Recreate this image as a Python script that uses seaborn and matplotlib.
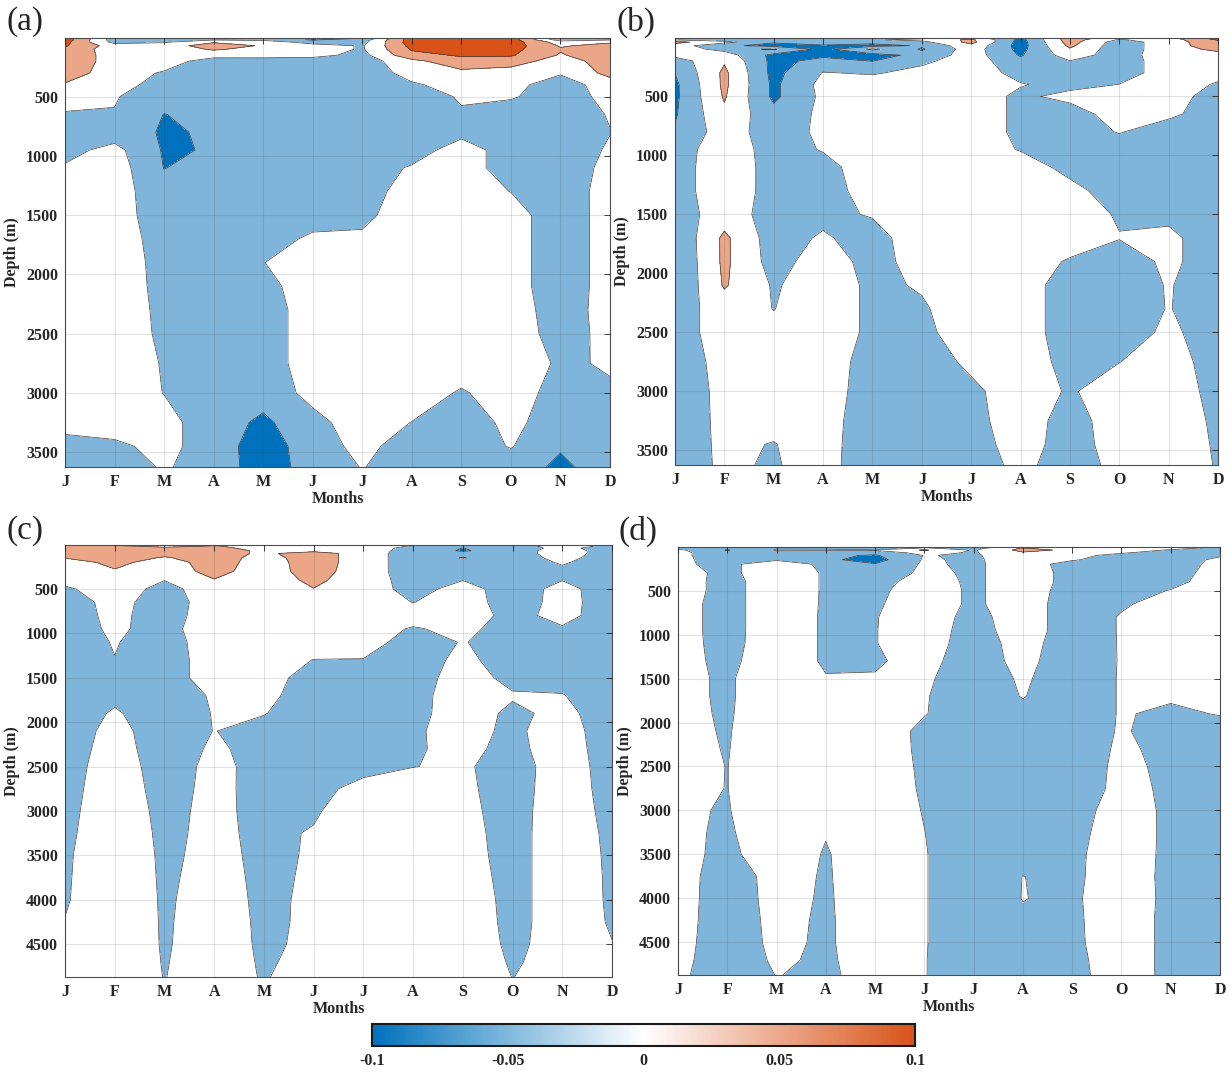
import numpy as np
import matplotlib
matplotlib.use("Agg")
import matplotlib.pyplot as plt
from matplotlib.colors import Normalize
import matplotlib.cm as cm
import seaborn as sns

# ---------------- data (values in units of 0.01) ----------------
months = ['J', 'F', 'M', 'A', 'M', 'J', 'J', 'A', 'S', 'O', 'N', 'D']
month_pos = list(range(1, 13))

depth_ab = [5, 20, 40, 70, 100, 150, 200, 300, 400, 500, 650, 800, 950, 1100, 1300,
            1500, 1700, 1900, 2100, 2300, 2500, 2750, 3000, 3250, 3450, 3625]
depth_cd = [5, 20, 40, 70, 100, 150, 200, 300, 400, 500, 650, 800, 950, 1100, 1300,
            1500, 1700, 1900, 2100, 2300, 2500, 2750, 3000, 3250, 3500, 3750, 4000,
            4250, 4500, 4700, 4870]

# one profile (top -> bottom) per month, J..D
panel_a = [
    [10, 10, 9, 8, 6, 5, 5, 5, 2, 0, -3, -5, -4, -2, 0, 0, 0, 0, 0, 0, 0, 0, 0, 0, -5, -5],
    [-4, -5, -4, 0, 0, 1, 1, 0, 0, -2.2, -2.7, -5, -1, 0, 0, 0, 0, 0, 0, 0, 0, 0, 0, 0, -3.5, -5],
    [-5, -5, -3, 0, 0, 0, 0, -3, -5, -5, -7.6, -8, -8, -7.6, -6, -5.5, -4.5, -4, -3.8, -3.5, -3.3, -2.8, -2.6, -1, -1, -2],
    [-4, -3, 2, 5, 3, -0.5, -5, -5, -5, -5, -6, -7, -7.2, -6, -5, -5, -5, -5, -5, -5, -5, -5, -5, -5, -5, -4.7],
    [-5, -4, 1, 2, 1, -0.5, -5, -5, -5, -5, -5, -5, -5, -5, -5, -5, -5, -2.6, -4, -5, -5, -5, -5.5, -8.5, -10, -10],
    [-8, -8, -5, 0, 0, -1, -5, -5, -5, -5, -5, -5, -5, -5, -5, -5, -1.5, 0, 0, 0, 0, 0, -1, -4, -5, -5.5],
    [-8, -5, -4, -3, -3, -4, -5, -5, -5, -5, -5, -5, -5, -5, -5, -4, -1.5, 0, 0, 0, 0, 0, 0, 0, -1, -2.3],
    [10, 10, 10, 9, 8, 6, 1, -1, -3, -5, -5, -5, -5, -2, 0, 1, 1, 0, 0, 0, 0, 0, 0, -2.6, -5, -5],
    [10, 10, 10, 10, 9, 8, 6, 1, -1, -2, -3, -4, 0, 0, 0, 0, 0, 0, 0, 0, 0, 0, -3, -5, -5, -5],
    [10, 10, 10, 10, 9, 8, 5, 0, -1, -2, -5, -5, -5, -5, -2.6, 0, 0, 0, 0, 0, 0, 0, 0, -1.3, -2.2, -5],
    [-8, -5, 0, 2, 3, 2, 0, -2, -5, -5, -5, -5, -5, -5, -5, -6, -6, -6, -6, -5, -4.4, -3.1, -4.5, -5, -7, -8.5],
    [-8, -3, 2, 4, 5, 6, 5, 4, 0, -1, -2.2, -2.6, -2, -1.3, -0.7, 0, 0, 0, 0, -0.5, -1.2, -2.1, -3, -5, -5, -5],
]

panel_b = [
    [-4, -3, 4, 0, 0, -1, -5, -7.4, -8.5, -8.5, -8, -7, -5, -5, -5, -5, -7, -7.4, -7.4, -5, -5, -5, -5, -5, -5, -5],
    [-8, -5, -1, -6.5, -4, 0, 2, 3.5, 3.5, 3, 1.5, 0, 0.5, 1, 1, 0, 3.5, 3.5, 3, 0, 0, -1, -1.4, -1.5, -1.6, -1.7],
    [-5, -5, -7, -9, -2, -9, -9, -9, -8.5, -8.5, -6, -5, -4.5, -4.5, -4.5, -4.5, -5, -4.5, -3, -2.6, -1.5, 0, 0, -1, -2.7, -3],
    [-4, -3, -5, -8, -9, -8.5, -6, -2.3, -1, -1.4, -1.4, -1.5, -2.2, -4, -5, -4, -1.8, 0, 0, 0, 0, 0, 0, 0, 0, 0],
    [-5, -3, -6, -9, -1.5, -9.5, -7.6, -3, 0, 0, 0, 0, 0, 0, 0, -2, -5, -4.2, -3.4, -3.4, -3.4, -4.5, -5, -6, -6.5, -6.8],
    [-4, -1, -4, -7, -8, -6, -3.5, -1, 0, 0, 0, 0, 0, 0, 0, 0, 1.4, -0.6, -2.1, -3, -3.4, -5, -5, -5, -5, -5],
    [0, 3.5, 4, 1, 0, 0, 0, 0, 0, 0, 0, 0, 0, 0, 0, 0, 0, 0, 0, 0, -0.5, -1.5, -3.5, -4, -5, -5],
    [-8, -9, -9.5, -9.5, -9, -8, -6, -4, -2.2, -3.5, -3.5, -3.5, -2.8, 0, 0, 0, 0, 0, 0, 0, 0, 0, 0, 0, 0, -1.2],
    [5, 5, 4.5, 3.5, 2, 0, -2.6, -5, -4, -1, -5, -5, -5, -4, -1, 0, 0, -3, -5, -5, -5, -4, -3, -4.5, -5, -5],
    [0, -3, -5, -5.5, -5.5, -5, -5, -5, -2.4, 0, 0, -2.2, -5, -5, -5, -3, -2.3, -5, -5, -5, -5, -2.6, 0, 0, 0, -1],
    [1, 0, 0, 0.5, 0.5, 0.5, 0, 0, 0, 0, -1.5, -5, -5, -5, -5, -3.5, -1.5, -1.5, -2.2, -2.3, -1.5, 0, 0, 0, 0, 0],
    [10, 8, 6, 5, 3.5, 1, 0, -1, -3, -5, -5, -5, -5, -5, -5, -5, -5, -5, -5, -5, -5, -5, -4, -3.3, -3, -2.8],
]

panel_c = [
    [8, 5, 5, 5, 4.5, 2.7, 0, 0, -1, -3.2, -5, -5, -5, -5, -5, -5, -5, -5, -5, -4.8, -4.5, -4, -3.6, -3.3, -3, -2.9, -2.8, -2.4, -1.5, -1, -1],
    [1.5, 4, 5, 5, 5, 5, 4, 2, 0, 0, -0.8, -1.2, -1.6, -2.2, -2.6, -3.5, -3.5, -2, -1, -0.5, 0, 0, 0, 0, 0, 0, 0, 0, 0, 0, 0],
    [0, 1, 4, 4, 4, 2, 0, 0, -2.4, -4, -5, -5, -4.5, -5, -5, -5, -5, -5, -5, -5, -4.7, -4.1, -3.6, -3.3, -3.1, -3, -2.9, -2.85, -2.8, -2.7, -2.6],
    [2, 3, 4, 5, 5, 5, 5, 4, 2.3, 0, 0, 0.5, 1, 0.5, 0, 0, -2, -2.3, -2.4, -1.8, -1.3, -1.4, -1.5, -1.6, -1.6, -1.4, -1.2, -1, -0.9, -0.7, -0.5],
    [-1, 0, 0.5, 1.5, 1.5, 0.5, 0, 0.2, 0, 0, 0, 0, 0, 0, 0, 0, -1.2, -2.3, -4, -4, -4, -3.9, -3.7, -3.4, -3.2, -3.15, -3.1, -3.05, -3, -2.9, -2.8],
    [-4, -1, 0, 1, 5, 5, 5, 4.5, 3.5, 2.4, 1, 0, 0, 0, -2.6, -5, -5, -5, -5, -5, -5, -5, -3, -2.2, -2.2, -2.1, -2, -2, -1.9, -1.5, -0.5],
    [-4, 0, 0, 0, 0, 0, 0, 0, 0, 0.5, 0, 0, 0, 0, -2.7, -5, -5, -5, -5, -5, -5, 0, 0, 0, 0, 0, 0, 0, 0, 0, 0],
    [-2, -3, -4, -4.5, -5, -5, -5, -5, -4.5, -4.5, -2.6, 0, -3, -5, -5, -5, -4.5, -4, -3.1, -3, -2.6, 0, 0, 0, 0, 0, 0, 0, 0, 0, 0],
    [-8, -6, -7.6, -8, -5, -2.3, -5, -4, -2.6, -0.5, 0, 0, -1, -2.2, -1.2, 0, 0.5, 0, -0.8, -1.25, -1.8, -1.6, -1.4, -1.1, -0.8, -0.2, 0.6, 1.2, 1.6, 2, 2],
    [-6, -5, -5, -5, -5, -5, -5, -5, -5, -5, -5, -4, -5, -5, -5, -4, -2, -3.5, -3.5, -3.85, -4.7, -4.5, -4.2, -4.1, -4.1, -4.1, -4.1, -4.1, -3.8, -3.2, -2.6],
    [-1, 0, -1, 0, 0, -1, -2, -3.5, -2.6, -1, -0.8, -1, -3, -5, -5, -4, -2.3, -1.2, 0, 0, 0, 0, 0, 0, 0, 0, 0, 0, 0, 0, 0],
    [-4, -4, -5, -5, -5, -5, -5, -5, -5, -5, -5, -5, -5, -5, -5, -5, -5, -5, -5.5, -5, -4.5, -4.2, -3.8, -3.4, -3.2, -3.1, -3.05, -2.9, -2.4, -1.5, -1],
]

panel_d = [
    [-4, -4, -1.5, -1.5, -1.9, -1.9, -1.9, -1, -0.5, -0.5, -1, -1, -1, -1, -1.2, -1.6, -1.6, -1.6, -1.66, -1.6, -1.5, -1.8, -2.1, -1.8, -1.3, -0.45, -0.6, -0.76, -1, -1.3, -1.67],
    [-8, -6, -7.8, -5, -4, -3.7, -3.5, -3.5, -4, -4, -4, -4, -4, -3.9, -3.5, -3, -3, -2.9, -2.75, -2.65, -2.55, -2.55, -2.7, -3, -3.5, -5, -5, -5, -5, -5, -5],
    [-4, -3, -2, -4, -4, -3, 0, 0, 0, 0, 0, 0, 0, 0, 0, 0, 0, 0, 0, 0, 0, 0, 0, 0, 0, -0.8, -1, -1.3, -1.5, -1.9, -2.4],
    [-4, -3, -2, -4.5, -6.5, -6.5, -3.5, -2.9, -2.9, -2.9, -2.95, -3, -3, -3, -3, -2.3, 0, 0, 0, 0, 0, 0, -1, -2.3, -2.8, -2.9, -3, -3.1, -3.12, -3.15, -3.17],
    [-6, -5, -2, -5, -8, -9.5, -7.2, -6.5, -4.2, -3.6, -3.1, -2.7, -2.65, -2.65, -3, -2.2, 0, 0, 0, 0, 0, 0, 0, 0, 0, 0, 0, 0, 0, -0.5, -1],
    [-3, -2, 3, -1, -2.3, -2, -1.8, -1.2, -0.5, 0, 0, 0, 0, 0, -1, -1.8, -2.2, -2.3, -3.5, -3.4, -3.2, -3, -2.7, -2.45, -2.3, -2.3, -2.3, -2.3, -2.3, -2.35, -2.35],
    [-5, -4, -3, -3, -3, -3.2, -3.3, -3.3, -3.3, -3.3, -3.3, -4, -4.5, -5, -5, -5, -5, -5, -5, -5, -5, -5, -5, -5, -5, -5, -5, -5, -5, -5, -5],
    [0, 3, 4, 2, 0, 0, 0, 0, 0, 0, 0, 0, 0, -0.5, -1, -1.9, -2.3, -3.5, -4.5, -5, -5, -5, -5, -5, -5, -2.45, -2.4, -3, -5, -5, -5],
    [-3, -1, 1.5, 0, -1, -2, -4.5, -4, -4, -4.5, -5, -5, -5, -5.3, -5.5, -5, -5, -5, -5, -5, -5, -5, -4, -3.7, -3.5, -3.4, -3.3, -3.3, -3.4, -3.5, -3.5],
    [1, 1.5, 0, -2, -4, -5, -5, -5, -5, -4.5, -3, -2.2, -2.2, -2.2, -2.2, -2.2, -2.2, -2.2, -2.1, -1.8, -1.5, -1.3, -0.9, -0.5, 0, 0, 0.5, 0, 0, -0.5, -0.8],
    [0, -1, -3, -4.5, -5, -5, -5, -5, -4, -2.3, -1, -0.5, -0.5, -0.5, -0.5, -1, -2, -3.2, -4.1, -3.6, -3.4, -3.2, -3.16, -3.3, -3.57, -3.7, -3.8, -3.75, -3.7, -3.5, -3.3],
    [-3, -4, -4.5, -4, -3, -1.5, -1, 0, 0, 0, 0, 0, 0, 0, 0, 0, -1, -2.3, -4, -4.5, -4.5, -4.5, -4.5, -4.5, -4.5, -4.5, -4.5, -4.5, -4.5, -4.5, -4.5],
]

yticks_ab = [500, 1000, 1500, 2000, 2500, 3000, 3500]
yticks_cd = [500, 1000, 1500, 2000, 2500, 3000, 3500, 4000, 4500]
cbar_ticks = [-0.1, -0.05, 0, 0.05, 0.1]
cbar_labels = ['-0.1', '-0.05', '0', '0.05', '0.1']

# ---------------- style ----------------
sns.set_style("white")
plt.rcParams['font.family'] = ['Liberation Serif', 'DejaVu Serif']
plt.rcParams['font.weight'] = 'bold'
plt.rcParams['contour.negative_linestyle'] = 'solid'

BLUE = '#0072BD'
ORANGE = '#D95319'
fill_levels = [-1.0, -0.075, -0.025, 0.025, 0.075, 1.0]
fill_colors = [BLUE, '#7FB5DB', '#FFFFFF', '#EBA687', ORANGE]
cmap_bar = sns.blend_palette([BLUE, '#FFFFFF', ORANGE], n_colors=256, as_cmap=True)

fig = plt.figure(figsize=(12.32, 10.72), dpi=100)

axes_pos = {
    'a': [65 / 1232, 1 - 467 / 1072, 545 / 1232, 429 / 1072],
    'b': [675 / 1232, 1 - 465 / 1072, 543 / 1232, 427 / 1072],
    'c': [65 / 1232, 1 - 977 / 1072, 547 / 1232, 432 / 1072],
    'd': [678 / 1232, 1 - 975 / 1072, 542 / 1232, 428 / 1072],
}
panels = {
    'a': (panel_a, depth_ab, yticks_ab),
    'b': (panel_b, depth_ab, yticks_ab),
    'c': (panel_c, depth_cd, yticks_cd),
    'd': (panel_d, depth_cd, yticks_cd),
}
label_xy = {'a': (6, 22), 'b': (617, 22), 'c': (6, 531), 'd': (619, 531)}

for key, (vals, depth, yt) in panels.items():
    ax = fig.add_axes(axes_pos[key])
    Z = np.array(vals, dtype=float).T / 100.0
    X, Y = np.meshgrid(month_pos, depth)
    ax.contourf(X, Y, Z, levels=fill_levels, colors=fill_colors)
    ax.contour(X, Y, Z, levels=fill_levels[1:-1], colors='#3a3a3a',
               linewidths=0.5, linestyles='solid')
    ax.set_xlim(1, 12)
    ax.set_ylim(depth[-1], depth[0])
    ax.set_xticks(month_pos)
    ax.set_xticklabels(months)
    ax.set_yticks(yt)
    ax.set_yticklabels([str(v) for v in yt])
    ax.grid(True, color='#262626', alpha=0.13, linewidth=0.8)
    ax.set_axisbelow(False)
    ax.tick_params(direction='in', length=4, width=0.6, top=True, right=True,
                   labelsize=11.5, colors='#262626', pad=5)
    for lab in ax.get_xticklabels() + ax.get_yticklabels():
        lab.set_fontweight('bold')
    for sp in ax.spines.values():
        sp.set_color('#4d4d4d')
        sp.set_linewidth(0.8)
    ax.set_xlabel('Months', fontsize=11.5, fontweight='bold', labelpad=1)
    ax.set_ylabel('Depth (m)', fontsize=11.5, fontweight='bold', labelpad=4)
    lx, ly = label_xy[key]
    fig.text(lx / 1232, 1 - ly / 1072, f'({key})', fontsize=24, fontweight='normal',
             ha='left', va='center')

cax = fig.add_axes([372 / 1232, 1 - 1046 / 1072, 543 / 1232, 22 / 1072])
sm = cm.ScalarMappable(norm=Normalize(-0.1, 0.1), cmap=cmap_bar)
cb = fig.colorbar(sm, cax=cax, orientation='horizontal', ticks=cbar_ticks)
cb.ax.set_xticklabels(cbar_labels)
cb.ax.tick_params(direction='in', length=4, width=0.8, labelsize=11.5, pad=5)
for lab in cb.ax.get_xticklabels():
    lab.set_fontweight('bold')
cb.outline.set_linewidth(1.5)
cb.outline.set_edgecolor('#1a1a1a')

fig.savefig('out.png', dpi=100)
